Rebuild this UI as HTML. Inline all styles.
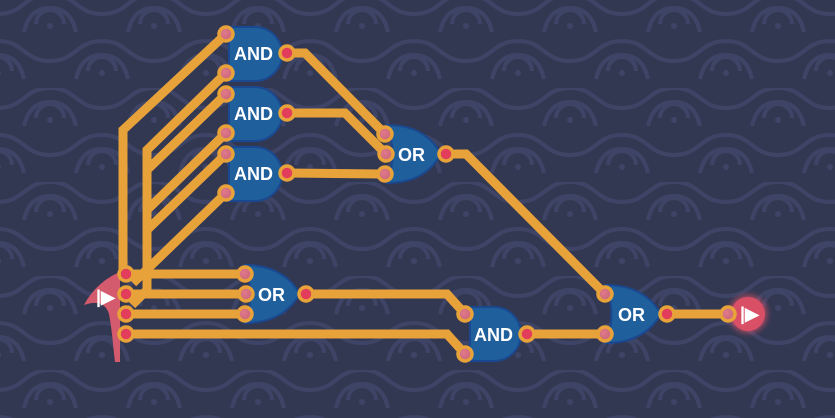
<!DOCTYPE html>
<html><head><style>
html,body{margin:0;padding:0;width:835px;height:418px;overflow:hidden;background:#333852}
svg{display:block}
text{font-family:"Liberation Sans",sans-serif;font-weight:bold;fill:#fff;font-size:18px}
</style></head><body>
<svg width="835" height="418" viewBox="0 0 835 418">
<defs>
<pattern id="bg" width="104" height="94" patternUnits="userSpaceOnUse" x="-2" y="-6">
<rect width="104" height="94" fill="#333852"/>
<g fill="none" stroke="#3e4466" stroke-width="4">
<path d="M0 20 C26 20 26 0 52 0 C78 0 78 20 104 20"/>
<path d="M-52 67 C-26 67 -26 47 0 47 C26 47 26 67 52 67 C78 67 78 47 104 47 C130 47 130 67 156 67"/>
<path d="M38 30 A14 14 0 0 1 66 30"/>
<path d="M26 38 C30 20 40 14 52 14 C64 14 74 20 78 38"/>
<path d="M-14 77 A14 14 0 0 1 14 77"/><path d="M90 77 A14 14 0 0 1 118 77"/>
<path d="M-26 85 C-22 67 -12 61 0 61 C12 61 22 67 26 85"/><path d="M78 85 C82 67 92 61 104 61 C116 61 126 67 130 85"/>
<circle cx="52" cy="32" r="3" fill="#3e4466" stroke="none"/>
<circle cx="0" cy="79" r="3" fill="#3e4466" stroke="none"/><circle cx="104" cy="79" r="3" fill="#3e4466" stroke="none"/>
</g>
</pattern>
<radialGradient id="pin" cx="0.4" cy="0.4" r="0.6"><stop offset="0" stop-color="#e07a8a"/><stop offset="1" stop-color="#c9667c"/></radialGradient>
<filter id="glow" x="-50%" y="-50%" width="200%" height="200%"><feGaussianBlur stdDeviation="3"/></filter>
</defs>
<rect width="835" height="418" fill="url(#bg)"/>
<g fill="none" stroke="#e8a23a" stroke-width="9" stroke-linejoin="miter">
<polyline points="226,34 123,130 123,274"/>
<polyline points="226,73 147,150 147,290 132,305"/>
<polyline points="226,94 147,170"/>
<polyline points="226,133 147,210"/>
<polyline points="226,154 147,230"/>
<polyline points="226,193 133,283"/>
<polyline points="126,274 245,274"/>
<polyline points="126,294 246,294"/>
<polyline points="126,314 245,314"/>
<polyline points="126,334 447,334 465,354"/>
<polyline points="306,294 447,294 465,314"/>
<polyline points="287,53 305,53 385,134"/>
<polyline points="287,113 345,113 386,154"/>
<polyline points="287,173 385,174"/>
<polyline points="446,154 466,154 605,294"/>
<polyline points="527,334 605,334"/>
<polyline points="667,314 728,314"/>
</g>
<!-- input fin -->
<path d="M120 272 C105 278 92 290 84 305 C98 300 106 304 109 314 C112 330 113 345 115 362 L120 362 Z" fill="#d45a6e"/>
<text x="96" y="303" font-size="14">|▶</text>
<!-- output node -->
<circle cx="748" cy="314" r="19" fill="#e0556b" filter="url(#glow)" opacity="0.7"/>
<circle cx="748" cy="314" r="17" fill="#d94f66"/>
<text x="740" y="320" font-size="15">|▶</text>
<!-- gates -->
<g fill="#1f5f9c" stroke="#1a4890" stroke-width="2">
<path d="M229 27 H255 A27 27 0 0 1 255 81 H229 Z"/>
<path d="M229 87 H255 A27 27 0 0 1 255 141 H229 Z"/>
<path d="M229 147 H255 A27 27 0 0 1 255 201 H229 Z"/>
<path d="M470 307 H494 A27 27 0 0 1 494 361 H470 Z"/>
<path d="M387 125 Q425 125 441 154 Q425 183 387 183 Q398 154 387 125 Z"/>
<path d="M245 265 Q283 265 300 294 Q283 323 245 323 Q256 294 245 265 Z"/>
<path d="M606 285 Q644 285 661 314 Q644 343 606 343 Q617 314 606 285 Z"/>
</g>
<text x="234" y="60">AND</text>
<text x="234" y="120">AND</text>
<text x="234" y="180">AND</text>
<text x="474" y="341">AND</text>
<text x="398" y="161">OR</text>
<text x="258" y="301">OR</text>
<text x="618" y="321">OR</text>
<!-- pins -->
<g stroke="#e8a23a" stroke-width="3.5" fill="url(#pin)">
<circle cx="226" cy="34" r="7"/><circle cx="226" cy="73" r="7"/>
<circle cx="226" cy="94" r="7"/><circle cx="226" cy="133" r="7"/>
<circle cx="226" cy="154" r="7"/><circle cx="226" cy="193" r="7"/>
<circle cx="385" cy="134" r="7"/><circle cx="386" cy="154" r="7"/><circle cx="385" cy="174" r="7"/>
<circle cx="245" cy="274" r="7"/><circle cx="246" cy="294" r="7"/><circle cx="245" cy="314" r="7"/>
<circle cx="465" cy="314" r="7"/><circle cx="465" cy="354" r="7"/>
<circle cx="605" cy="294" r="7"/><circle cx="605" cy="334" r="7"/>
<circle cx="728" cy="314" r="7"/>
</g>
<g stroke="#e8a23a" stroke-width="3.5" fill="#e23d5a">
<circle cx="287" cy="53" r="7"/><circle cx="287" cy="113" r="7"/><circle cx="287" cy="173" r="7"/>
<circle cx="446" cy="154" r="7"/><circle cx="306" cy="294" r="7"/>
<circle cx="527" cy="334" r="7"/><circle cx="667" cy="314" r="7"/>
<circle cx="126" cy="274" r="7"/><circle cx="126" cy="294" r="7"/><circle cx="126" cy="314" r="7"/><circle cx="126" cy="334" r="7"/>
</g>
</svg>
</body></html>
